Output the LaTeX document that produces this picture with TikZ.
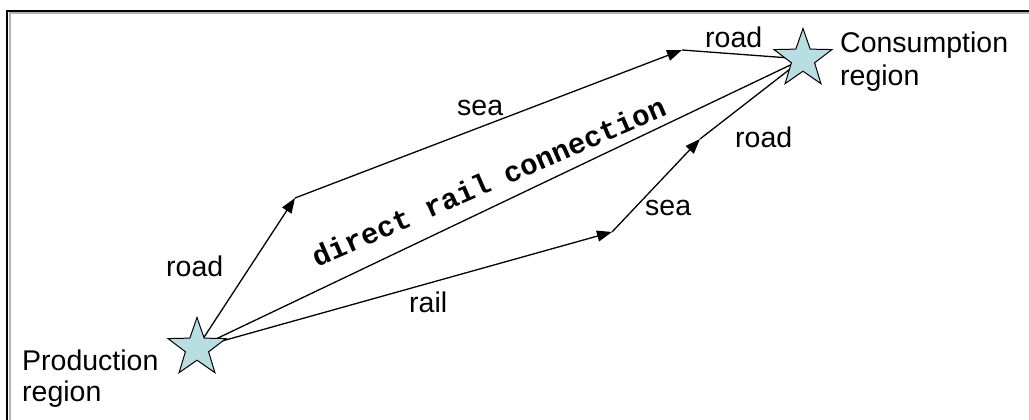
\documentclass[tikz,border=0pt]{standalone}
\usepackage{fontspec}
\setmainfont{Liberation Sans}
\newfontfamily\monob{Liberation Mono}
\usetikzlibrary{shapes.geometric,arrows.meta}
\definecolor{starfill}{RGB}{185,222,226}
\tikzset{
  conn/.style={line width=1.3pt, -{Triangle[length=15pt,width=11pt]}},
  plain/.style={line width=1.3pt},
  lbl/.style={font=\fontsize{28.5}{31}\selectfont, inner sep=0pt, anchor=base west},
  region/.style={star, star points=5, star point ratio=2.5, minimum size=61pt, inner sep=0pt, draw=black, line width=1pt, fill=starfill}
}
\begin{document}
\begin{tikzpicture}[x=1pt,y=-1pt]
\useasboundingbox (0,0) rectangle (1029,420);
\fill[white] (0,0) rectangle (1029,420);
% frame
\draw[gray!60, line width=2pt] (9.5,420) -- (9.5,13.5) -- (1029,13.5);
\draw[black, line width=2pt] (7,420) -- (7,11) -- (1029,11);
% points
\coordinate (P) at (197,348);
\coordinate (Q) at (803,59);
\coordinate (A) at (295,198);
\coordinate (B) at (682,50);
\coordinate (C) at (612,232);
\coordinate (D) at (700,139);
% connectors
\draw[conn] (P) -- (A);
\draw[conn] (A) -- (B);
\draw[plain] (B) -- (Q);
\draw[plain] (P) -- (Q);
\draw[conn] (P) -- (C);
\draw[conn] (C) -- (D);
\draw[plain] (D) -- (Q);
% stars
\node[region] (ps) at (P) {};
\node[region] (qs) at (Q) {};
% labels
\node[lbl] (l1) at (166,276) {road};
\node[lbl] (l2) at (457,115) {sea};
\node[lbl] (l3) at (705,48) {road};
\node[lbl] (l4) at (735,147) {road};
\node[lbl] (l5) at (645,215) {sea};
\node[lbl] (l6) at (409,312) {rail};
\node[lbl] (l7) at (22,370) {Production};
\node[lbl] (l8) at (22,401) {region};
\node[lbl] (l9) at (840,53) {Consumption};
\node[lbl] (l10) at (840,85) {region};
\node[font=\monob\bfseries\fontsize{29}{31}\selectfont, inner sep=0pt, anchor=base, rotate=23.5] (l11) at (493,191) {direct rail connection};
\end{tikzpicture}
\end{document}
